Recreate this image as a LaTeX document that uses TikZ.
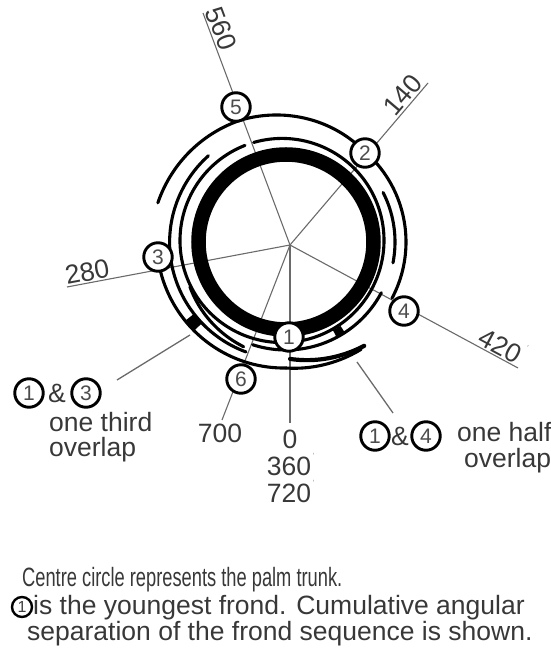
\documentclass[tikz,border=0pt]{standalone}
\usepackage{fontspec}
\usepackage{graphicx}
\setmainfont{Liberation Sans}
\usetikzlibrary{calc}
\definecolor{txt}{HTML}{383838}
\definecolor{rad}{HTML}{6A6A6A}
\newcommand\sarc[5][]{%
  \draw[arcline,#1] plot[domain=#2:#3, samples=60, variable=\t]
   ({286+(#4+(#5-(#4))*(\t-(#2))/((#3)-(#2)))*cos(\t)},
    {420+(#4+(#5-(#4))*(\t-(#2))/((#3)-(#2)))*sin(\t)});}
\newcommand\degmk{\rlap{\raisebox{0.62em}{\color{black!35}\fontsize{9}{9}\selectfont\,'}}}
\begin{document}
\begin{tikzpicture}[x=1pt,y=1pt,
  arcline/.style={line width=3.1pt, line cap=round},
  radial/.style={line width=1.1pt, draw=rad},
  leader/.style={line width=1.3pt, draw=rad},
  lbl/.style={text=txt, font=\fontsize{26.5}{28}\selectfont, inner sep=1pt},
  fmark/.style={circle, draw=black, line width=2.9pt, fill=white, minimum size=28.5pt,
    inner sep=0pt, text=black!70, font=\fontsize{21}{21}\selectfont},
  smallmark/.style={circle, draw=black, line width=2.4pt, fill=white, minimum size=20pt,
    inner sep=0pt, text=black!75, font=\fontsize{16}{16}\selectfont},
]
\useasboundingbox (0,0) rectangle (551,662);
\coordinate (C) at (286,420);
\coordinate (R) at (290,417);
% radial line ends
\coordinate (e0) at (290,239);
\coordinate (e2) at (428,579);
\coordinate (e3) at (67,375);
\coordinate (e4) at (518,294);
\coordinate (e5) at (203,649);
\coordinate (e6) at (222,242);
\draw[radial] (R) -- (e0);
\draw[radial] (R) -- (e2);
\draw[radial] (R) -- (e3);
\draw[radial] (R) -- (e4);
\draw[radial] (R) -- (e5);
\draw[radial] (R) -- (e6);
% leaders
\coordinate (a13) at (190,327);
\coordinate (b13) at (117,282);
\coordinate (a14) at (357,300);
\coordinate (b14) at (393,249);
\draw[leader] (b13) -- (a13);
\draw[leader] (b14) -- (a14);
% trunk
\draw[line width=14.5pt] (C) circle[radius=87.5pt];
% ring just outside trunk (gap near frond 5)
\draw[arcline] plot[domain=-247:108, samples=220, variable=\t]
  ({286+(102-4*cos(\t)+1.5*sin(\t))*cos(\t)}, {420+(102-4*cos(\t)+1.5*sin(\t))*sin(\t)});
% outer arc from frond 4 over 2 and 5
\sarc{-28}{50}{120}{120}
\sarc{50}{110}{120}{130}
\sarc{110}{163}{130}{134}
% left arc (inner line of lower-left band)
\sarc{132}{250}{116}{117}
% lower-left short arc
\sarc{205}{248}{106}{113}
% outer line of lower band
\sarc{190}{270}{129}{126}
\sarc{270}{305}{126}{131}
% band cap (1 & 3)
\fill ($(C)+(218:116pt)$) arc[start angle=218, end angle=224, radius=116pt]
  -- ($(C)+(224:128pt)$) arc[start angle=224, end angle=218, radius=128pt] -- cycle;
% frond 1 band outer line
\sarc{252}{332}{108}{108}
\fill ($(C)+(-62:100pt)$) arc[start angle=-62, end angle=-57, radius=100pt]
  -- ($(C)+(-57:108pt)$) arc[start angle=-57, end angle=-62, radius=108pt] -- cycle;
% half overlap arc (1 & 4)
\sarc[line width=4.2pt]{-88}{-53}{117}{130}
% right short arc
\sarc{-11}{27}{109}{109}
% markers
\node[fmark] (m1) at (289,325) {1};
\node[fmark] (m2) at (365,509) {2};
\node[fmark] (m3) at (158,405) {3};
\node[fmark] (m4) at (404,351) {4};
\node[fmark] (m5) at (236,555) {5};
\node[fmark] (m6) at (241,283) {6};
% angle labels
\path (R) -- (e2) node[lbl, pos=0.88, sloped, above, inner sep=2pt] (t140) {140};
\path (e3) -- (R) node[lbl, pos=0.1, sloped, above, inner sep=1.5pt] (t280) {280};
\path (R) -- (e4) node[lbl, pos=0.9, sloped, above, inner sep=1.5pt] (t420) {420\degmk};
\path (e5) -- (R) node[lbl, pos=0.085, sloped, above, inner sep=2pt] (t560) {560};
\node[lbl, anchor=base] (t700) at (220,219) {700};
\node[lbl, anchor=base] (t0) at (290,213) {0};
\node[lbl, anchor=base] (t360) at (289,186) {360\degmk};
\node[lbl, anchor=base] (t720) at (289,159) {720\degmk};
% overlap legends
\node[fmark] (l1) at (29,269) {1};
\node[lbl] (amp1) at (57,269) {\&};
\node[fmark] (l3) at (86,269) {3};
\node[lbl, anchor=base west] (ot) at (48,230) {one third};
\node[lbl, anchor=base west] (ov1) at (48,205) {overlap};
\node[fmark] (r1) at (375,226) {1};
\node[lbl] (amp2) at (400,226) {\&};
\node[fmark] (r4) at (426,226) {4};
\node[lbl, anchor=base west] (oh) at (456,220) {one half};
\node[lbl, anchor=base west] (ov2) at (463,194) {overlap};
% bottom text
\node[lbl, anchor=base west] (c1) at (21,75) {\scalebox{0.69}[1]{Centre circle represents the palm trunk.}};
\node[smallmark] (b1) at (22,55) {1};
\node[lbl, anchor=base west] (c2) at (32,47) {is the youngest frond. Cumulative angular};
\node[lbl, anchor=base west] (c3) at (26,21) {separation of the frond sequence is shown.};
\end{tikzpicture}
\end{document}
